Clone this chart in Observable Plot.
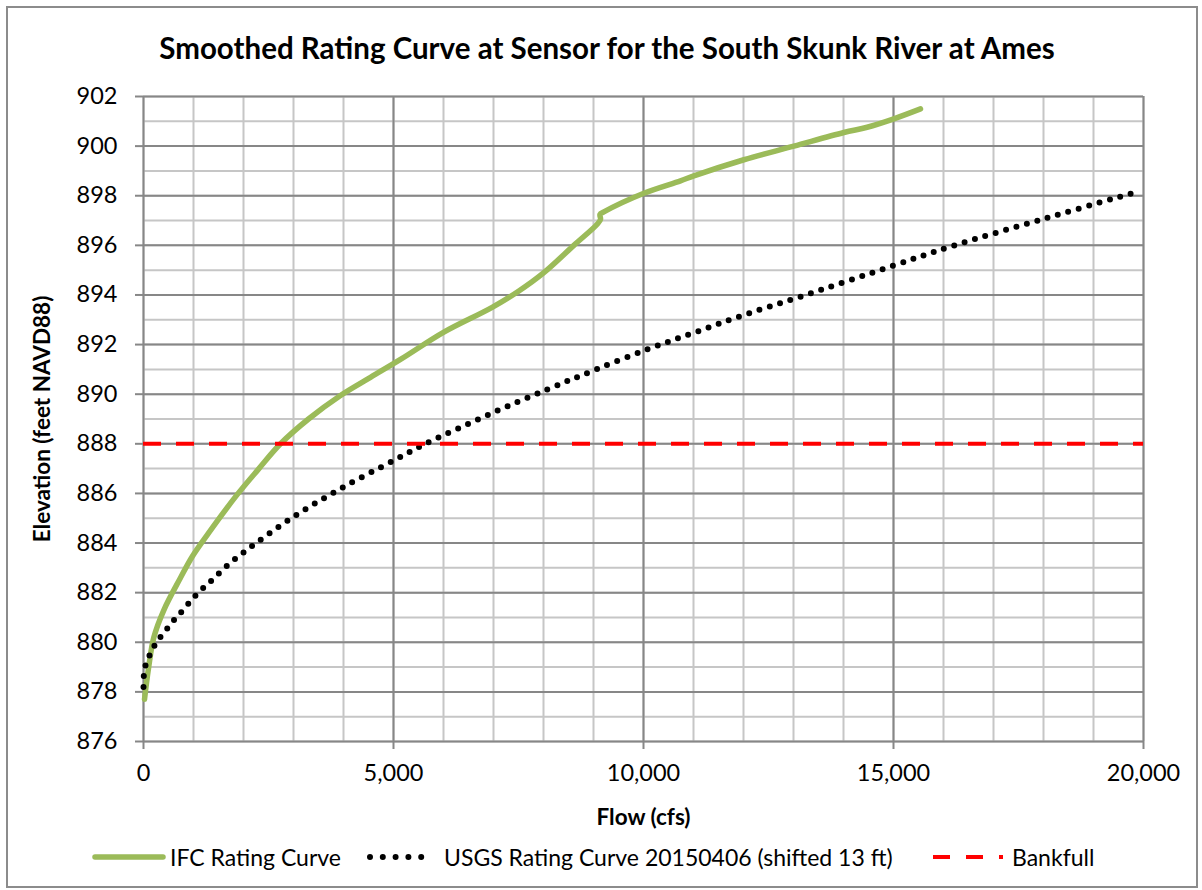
<!DOCTYPE html>
<html>
<head>
<meta charset="utf-8">
<script src="https://cdn.jsdelivr.net/npm/d3@7"></script>
<script src="https://cdn.jsdelivr.net/npm/@observablehq/plot@0.6"></script>
<style>
  html, body { margin: 0; padding: 0; background: #fff; }
  #wrap { position: relative; width: 1202px; height: 890px; font-family: Lato, "Open Sans", sans-serif; color: #000; }
  #border { position: absolute; left: 6px; top: 6px; width: 1188px; height: 878px; border: 2px solid #8c8c8c; box-sizing: content-box; pointer-events: none; }
  #title { position: absolute; left: 0; width: 1214px; top: 30px; text-align: center; font-weight: bold; font-size: 29.5px; line-height: 36px; white-space: nowrap; }
  #chart { position: absolute; left: 0; top: 0; }
  .leg { position: absolute; top: 842px; height: 30px; font-size: 23px; line-height: 30px; white-space: nowrap; }
  .leg svg { display: block; }
</style>
</head>
<body>
<div id="wrap">
  <div id="chart"></div>
  <div id="title">Smoothed Rating Curve at Sensor for the South Skunk River at Ames</div>
  <div id="legend"></div>
  <div id="border"></div>
</div>
<script>
// ---- Data ----
const ifcFlow = [20, 100, 207, 407, 740, 973, 1300, 1873, 2300, 2740, 3300, 3940, 4540, 5140, 6007, 6973, 7500, 8007, 8607, 9073, 9140, 9130, 9207, 10007, 10740, 11007, 12007, 13007, 14007, 14473, 15007, 15540];
const ifcElev = [877.7, 878.95, 880.2, 881.3, 882.6, 883.45, 884.4, 885.95, 886.98, 888.0, 889.0, 889.95, 890.68, 891.4, 892.5, 893.5, 894.15, 894.9, 896.0, 896.85, 897.05, 897.25, 897.35, 898.1, 898.6, 898.8, 899.45, 900.0, 900.55, 900.76, 901.1, 901.5];

const usgsFlow = [0, 7, 53, 153, 273, 427, 573, 740, 1053, 1360, 1673, 2007, 2940, 3940, 5007, 5640, 6973, 8107, 9007, 10107, 11040, 11973, 13107, 15007, 16140, 18073, 19840];
const usgsElev = [878.2, 878.66, 879.16, 879.6, 880.04, 880.43, 880.81, 881.18, 881.91, 882.49, 883.09, 883.63, 884.98, 886.19, 887.33, 888.0, 889.24, 890.22, 890.96, 891.83, 892.5, 893.17, 893.91, 895.19, 895.95, 897.11, 898.14];

const bankfull = 888;

const xTicks = [0, 5000, 10000, 15000, 20000];
const yTicks = [876, 878, 880, 882, 884, 886, 888, 890, 892, 894, 896, 898, 900, 902];
const xMinor = d3.range(0, 20001, 1000);
const yMinor = d3.range(876, 903, 1);

const seriesNames = ["IFC Rating Curve", "USGS Rating Curve 20150406 (shifted 13 ft)", "Bankfull"];
const xLabel = "Flow (cfs)";
const yLabel = "Elevation (feet NAVD88)";

// ---- Build tables ----
const ifc = ifcFlow.map((f, i) => ({flow: f, elev: ifcElev[i]}));
const usgs = usgsFlow.map((f, i) => ({flow: f, elev: usgsElev[i]}));

const GREEN = "#9BBB59", MINOR = "#c6c6c6", MAJOR = "#878787";

const chart = Plot.plot({
  width: 1202,
  height: 890,
  marginTop: 96,
  marginBottom: 149,
  marginLeft: 143,
  marginRight: 59,
  style: {fontFamily: "Lato, 'Open Sans', sans-serif", fontSize: "23px", color: "#000", background: "transparent"},
  x: {domain: [0, 20000]},
  y: {domain: [876, 902]},
  marks: [
    Plot.ruleX(xMinor, {stroke: MINOR, strokeWidth: 2}),
    Plot.ruleY(yMinor, {stroke: MINOR, strokeWidth: 2}),
    Plot.ruleX(xTicks, {stroke: MAJOR, strokeWidth: 2}),
    Plot.ruleY(yTicks, {stroke: MAJOR, strokeWidth: 2}),
    Plot.axisX(xTicks, {tickSize: 8, tickPadding: 15, tickFormat: d3.format(","), stroke: MAJOR, strokeWidth: 2, fill: "#000", fontSize: 23.5, label: null}),
    Plot.axisY(yTicks, {tickSize: 8, tickPadding: 18, tickFormat: d => String(d), stroke: MAJOR, strokeWidth: 2, fill: "#000", fontSize: 23.5, label: null}),
    Plot.line(ifc, {x: "flow", y: "elev", stroke: GREEN, strokeWidth: 5.5, strokeLinecap: "round", strokeLinejoin: "round", curve: "catmull-rom"}),
    Plot.line(usgs, {x: "flow", y: "elev", stroke: "#000", strokeWidth: 6, strokeLinecap: "round", strokeDasharray: "0 10.8", curve: "catmull-rom"}),
    Plot.ruleY([bankfull], {stroke: "#ff0000", strokeWidth: 4, strokeDasharray: "18 15"}),
    Plot.text([xLabel], {text: d => d, frameAnchor: "bottom", dy: 76, textAnchor: "middle", lineAnchor: "middle", fontWeight: "bold", fontSize: 22.5}),
    Plot.text([yLabel], {text: d => d, frameAnchor: "left", dx: -101, rotate: -90, textAnchor: "middle", lineAnchor: "middle", fontWeight: "bold", fontSize: 22.5})
  ]
});
document.getElementById("chart").appendChild(chart);

// ---- Legend (HTML + small SVG samples) ----
const legend = document.getElementById("legend");
function add(html) { legend.insertAdjacentHTML("beforeend", html); }
add(`<div class="leg" style="left:91px"><svg width="76" height="30"><line x1="4" y1="15" x2="72" y2="15" stroke="${GREEN}" stroke-width="5.5" stroke-linecap="round"/></svg></div>`);
add(`<div class="leg" style="left:170px">${seriesNames[0]}</div>`);
add(`<div class="leg" style="left:366px"><svg width="72" height="30"><line x1="4" y1="15" x2="68" y2="15" stroke="#000" stroke-width="6" stroke-linecap="round" stroke-dasharray="0 12.8"/></svg></div>`);
add(`<div class="leg" style="left:444px">${seriesNames[1]}</div>`);
add(`<div class="leg" style="left:931px"><svg width="74" height="30"><line x1="2" y1="15" x2="72" y2="15" stroke="#ff0000" stroke-width="4" stroke-dasharray="17 16"/></svg></div>`);
add(`<div class="leg" style="left:1012px">${seriesNames[2]}</div>`);
</script>
</body>
</html>
